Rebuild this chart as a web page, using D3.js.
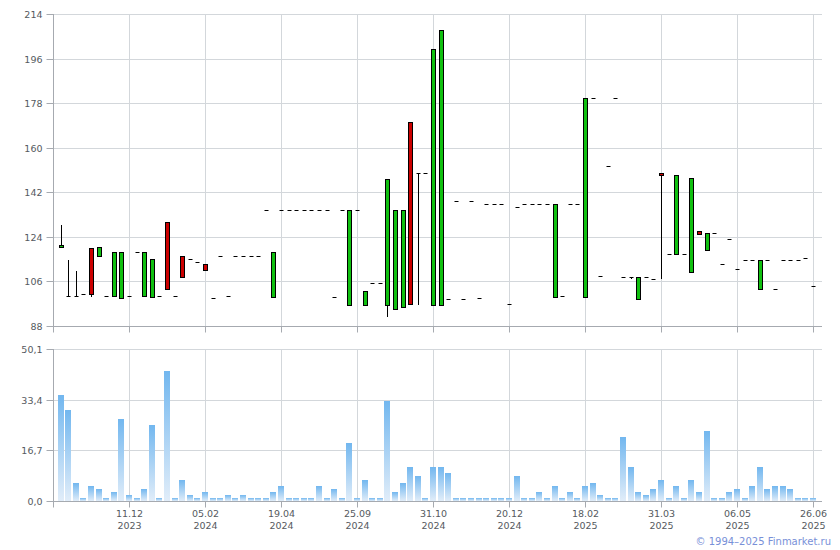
<!DOCTYPE html>
<html><head><meta charset="utf-8">
<script src="https://cdn.jsdelivr.net/npm/d3@7"></script>
<style>
body{margin:0;background:#fff;}
svg text{font-family:"DejaVu Sans",Verdana,sans-serif;font-size:9.5px;fill:#555a60;}
</style></head>
<body><svg id="c" width="840" height="550"></svg>
<script>
// ---- data ----
const categories = d3.range(100);
const openP  = [120.0,100,100,100.8,119.4,116.1,100,100,99.2,100,117.9,100,99.6,100,129.9,100,116.1,115.0,113.7,113.0,
                99.2,116.1,100,116.1,116.1,116.1,116.1,134.7,99.8,134.7,134.7,134.7,134.7,134.7,134.7,134.7,99.7,134.7,96.4,134.7,
                96.4,105.2,105.2,96.4,94.7,95.5,170.3,149.7,149.7,96.4,96.4,98.8,138.4,98.8,138.4,99.2,137.1,137.1,137.1,96.8,
                135.9,137.1,137.1,137.1,137.1,99.8,100,137.1,137.1,99.8,180,108.1,152.6,180,107.7,107.7,98.8,107.7,106.9,149.7,
                117.1,117.1,117.1,109.7,126.5,118.5,125.4,112.9,123.0,110.9,114.5,114.5,103.1,114.5,102.8,114.5,114.5,114.5,115.3,104.0];
const closeP = [120.9,100,100,100.8,100.8,119.9,100,117.8,117.8,100,117.9,117.8,114.9,100,102.8,100,107.9,115.0,113.7,110.7,
                99.2,116.1,100,116.1,116.1,116.1,116.1,134.7,117.8,134.7,134.7,134.7,134.7,134.7,134.7,134.7,99.7,134.7,134.7,134.7,
                102.0,105.2,105.2,147.2,134.7,134.7,96.8,149.7,149.7,199.7,207.4,98.8,138.4,98.8,138.4,99.2,137.1,137.1,137.1,96.8,
                135.9,137.1,137.1,137.1,137.1,137.1,100,137.1,137.1,180.0,180,108.1,152.6,180,107.7,107.7,107.7,107.7,106.9,148.8,
                117.1,148.8,117.1,147.6,125.3,125.4,125.4,112.9,123.0,110.9,114.5,114.5,114.5,114.5,102.8,114.5,114.5,114.5,115.3,104.0];
const highP  = [128.6,114.6,110.2,100.8,119.4,119.9,100,117.8,117.8,100,117.9,117.8,114.9,100,129.9,100,116.1,115.0,113.7,113.0,
                99.2,116.1,100,116.1,116.1,116.1,116.1,134.7,117.8,134.7,134.7,134.7,134.7,134.7,134.7,134.7,99.7,134.7,134.7,134.7,
                102.0,105.2,105.2,147.2,134.7,134.7,170.3,149.7,149.7,199.7,207.4,98.8,138.4,98.8,138.4,99.2,137.1,137.1,137.1,96.8,
                135.9,137.1,137.1,137.1,137.1,137.1,100,137.1,137.1,180.0,180,108.1,152.6,180,107.7,107.7,107.7,107.7,106.9,149.7,
                117.1,148.8,117.1,147.6,126.5,125.4,125.4,112.9,123.0,110.9,114.5,114.5,114.5,114.5,102.8,114.5,114.5,114.5,115.3,104.0];
const lowP   = [120.0,100,100,100.8,99.8,116.1,100,100,99.2,100,117.9,100,99.6,100,102.8,100,107.9,115.0,113.7,110.7,
                99.2,116.1,100,116.1,116.1,116.1,116.1,134.7,99.8,134.7,134.7,134.7,134.7,134.7,134.7,134.7,99.7,134.7,96.4,134.7,
                96.4,105.2,105.2,91.7,94.7,95.5,96.4,96.4,149.7,96.4,96.4,98.8,138.4,98.8,138.4,99.2,137.1,137.1,137.1,96.8,
                135.9,137.1,137.1,137.1,137.1,99.8,100,137.1,137.1,99.8,180,108.1,152.6,180,107.7,106.9,98.8,107.7,106.9,106.9,
                117.1,117.1,117.1,109.7,125.3,118.5,125.4,112.9,123.0,110.9,114.5,114.5,103.1,114.5,102.8,114.5,114.5,114.5,115.3,104.0];
const volume = [35.0,30.1,6.0,1.1,5.0,4.1,1.1,3.1,27.1,2.1,1.1,4.1,25.1,1.1,42.9,1.1,7.0,2.1,1.1,3.1,
                1.1,1.1,2.1,1.1,2.1,1.1,1.1,1.1,3.1,5.0,1.1,1.1,1.1,1.1,5.0,1.1,4.1,1.1,19.2,1.1,
                7.0,1.1,1.1,33.1,3.1,6.0,11.3,8.3,1.1,11.3,11.3,9.3,1.1,1.1,1.1,1.1,1.1,1.1,1.1,1.1,
                8.3,1.1,1.1,3.1,1.1,5.0,1.1,3.1,1.1,5.0,6.0,2.1,1.1,1.1,21.2,11.3,3.1,2.1,4.1,7.0,
                1.1,5.0,1.1,7.0,3.1,23.2,1.1,1.1,3.1,4.1,1.1,5.0,11.3,4.1,5.0,5.0,4.1,1.1,1.1,1.1];
const tickIdx   = [9,19,29,39,49,59,69,79,89,99];
const tickDays  = ["11.12","05.02","19.04","25.09","31.10","20.12","18.02","31.03","06.05","26.06"];
const tickYears = ["2023","2024","2024","2024","2024","2024","2025","2025","2025","2025"];
const priceTicks = [88,106,124,142,160,178,196,214];
const volTicks = [0,16.7,33.4,50.1];

// ---- layout ----
const L = 53, R = 822;
const svg = d3.select("#c");
const x = d3.scaleLinear().domain([0,99]).range([60.6,813]);
const yP = d3.scaleLinear().domain([88,214]).range([326,14]);
const yV = d3.scaleLinear().domain([0,50.1]).range([501,349]);
const gridC = "#d3d7db", axC = "#a6aab0";

const defs = svg.append("defs");
const gr = defs.append("linearGradient").attr("id","vg").attr("x1",0).attr("y1",0).attr("x2",0).attr("y2",1);
gr.append("stop").attr("offset","0%").attr("stop-color","#72b7ef");
gr.append("stop").attr("offset","100%").attr("stop-color","#e1edf9");

function panel(y, ticks, fmt, top, bottom){
  const g = svg.append("g");
  g.selectAll(".hg").data(ticks).join("line")
    .attr("x1",L).attr("x2",R).attr("y1",d=>Math.round(y(d))+0.5).attr("y2",d=>Math.round(y(d))+0.5)
    .attr("stroke",gridC);
  g.selectAll(".vg").data(tickIdx).join("line")
    .attr("x1",d=>Math.round(x(d))+0.5).attr("x2",d=>Math.round(x(d))+0.5)
    .attr("y1",top).attr("y2",bottom).attr("stroke",gridC);
  const ya = d3.axisLeft(y).tickValues(ticks).tickFormat(fmt).tickSize(7).tickPadding(4);
  const ga = g.append("g").attr("transform",`translate(${L+0.5},0)`).call(ya);
  ga.select(".domain").attr("stroke",axC).attr("d",`M0,${top}V${bottom}`);
  ga.selectAll(".tick").attr("transform",d=>`translate(0,${Math.round(y(d))+0.5})`);
  ga.selectAll(".tick line").attr("stroke",axC);
  ga.selectAll(".tick text").attr("fill","#555a60");
  const xa = d3.axisBottom(x).tickValues(tickIdx).tickFormat("").tickSize(6);
  const gx = g.append("g").attr("transform",`translate(0,${bottom+0.5})`).call(xa);
  gx.select(".domain").attr("stroke",axC).attr("d",`M${L},0H${R}`);
  gx.selectAll(".tick line").attr("stroke",axC);
  gx.selectAll(".tick").attr("transform",d=>`translate(${Math.round(x(d))+0.5},0)`);
  g.append("line").attr("x1",L+0.5).attr("x2",L+0.5).attr("y1",bottom).attr("y2",bottom+6.5).attr("stroke",axC);
  return g;
}
panel(yP, priceTicks, d3.format("d"), 14, 326);
panel(yV, volTicks, d=>d3.format(".1f")(d).replace(".",","), 349, 501);

// date labels
const lab = svg.append("g");
lab.selectAll(".d").data(tickIdx).join("text")
  .attr("x",d=>Math.round(x(d))+0.5).attr("y",517).attr("text-anchor","middle").text((d,i)=>tickDays[i]);
lab.selectAll(".yr").data(tickIdx).join("text")
  .attr("x",d=>Math.round(x(d))+0.5).attr("y",529).attr("text-anchor","middle").text((d,i)=>tickYears[i]);

// volume bars
svg.append("g").selectAll("rect").data(categories).join("rect")
  .attr("x",i=>Math.round(x(i))-3).attr("width",6)
  .attr("y",i=>Math.round(yV(volume[i]))).attr("height",i=>Math.round(yV(0))-Math.round(yV(volume[i])))
  .attr("fill","url(#vg)");

// candles
const cg = svg.append("g");
categories.forEach(i=>{
  const cx = Math.round(x(i));
  const o=openP[i], c=closeP[i], h=highP[i], l=lowP[i];
  if (h>Math.max(o,c)+0.05 || l<Math.min(o,c)-0.05){
    cg.append("line").attr("x1",cx+0.5).attr("x2",cx+0.5)
      .attr("y1",Math.round(yP(h))).attr("y2",Math.round(yP(l))).attr("stroke","#000").attr("stroke-width",1);
  }
  const y1 = Math.round(yP(Math.max(o,c))), y2 = Math.round(yP(Math.min(o,c)));
  if (y2-y1 < 1){
    cg.append("line").attr("x1",cx-1.5).attr("x2",cx+2.5)
      .attr("y1",y1+0.5).attr("y2",y1+0.5).attr("stroke","#000");
  } else {
    cg.append("rect").attr("x",cx-1.5).attr("width",4)
      .attr("y",y1+0.5).attr("height",y2-y1)
      .attr("fill", c>=o ? "#10c010" : "#cc0000").attr("stroke","#000").attr("stroke-width",1);
  }
});

svg.append("text").attr("x",831).attr("y",545).attr("text-anchor","end")
  .style("fill","#7890d8").style("font-size","10px").text("© 1994–2025 Finmarket.ru");
</script></body></html>
